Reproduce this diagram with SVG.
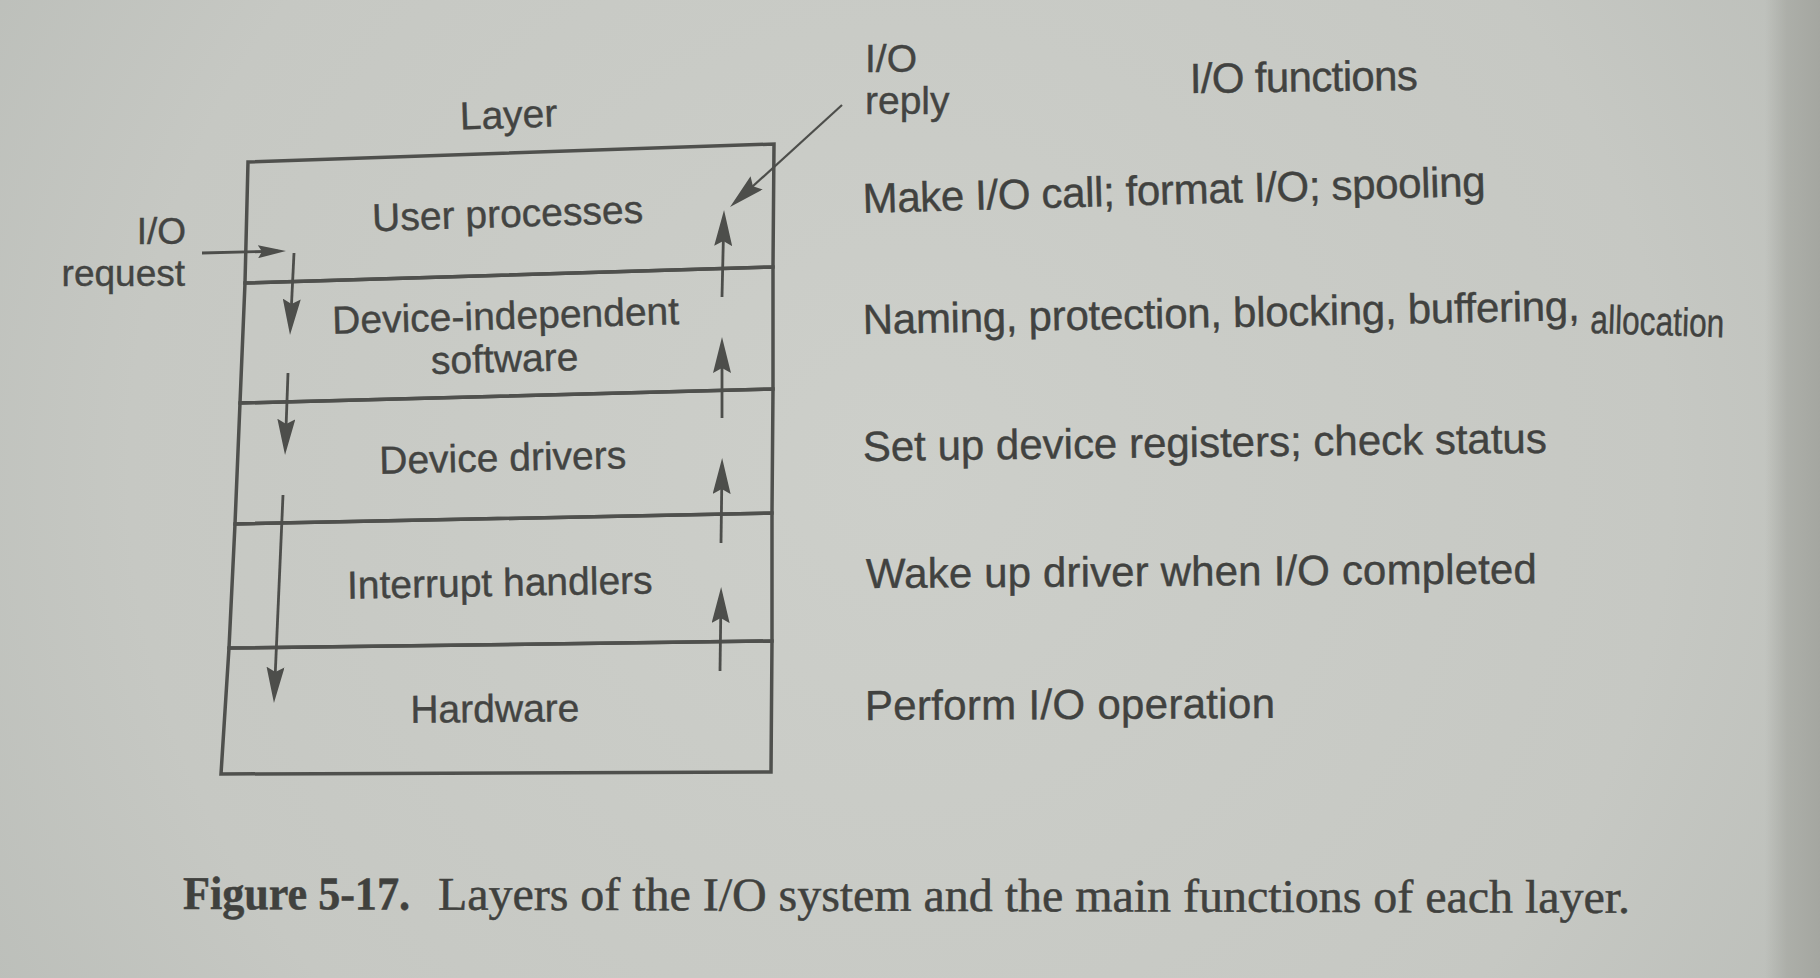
<svg xmlns="http://www.w3.org/2000/svg" width="1820" height="978" viewBox="0 0 1820 978">
  <defs>
    <radialGradient id="paper" cx="900" cy="470" r="1100" gradientUnits="userSpaceOnUse">
      <stop offset="0" stop-color="#cdcfca"/>
      <stop offset="0.7" stop-color="#c6c8c3"/>
      <stop offset="1" stop-color="#babdb8"/>
    </radialGradient>
    <linearGradient id="edge" x1="1765" y1="0" x2="1820" y2="0" gradientUnits="userSpaceOnUse">
      <stop offset="0" stop-color="#a8aaa4" stop-opacity="0"/>
      <stop offset="0.4" stop-color="#a8aaa4" stop-opacity="0.8"/>
      <stop offset="1" stop-color="#a4a6a0" stop-opacity="1"/>
    </linearGradient>
    <!-- slender filled arrowheads; the line stops short of the tip so its end stays hidden -->
    <marker id="head" markerUnits="userSpaceOnUse" markerWidth="36" markerHeight="18" refX="26" refY="9" orient="auto">
      <path d="M0,0 L36,9 L0,18 L5,9 Z" fill="#4d4e4b"/>
    </marker>
    <marker id="headSmall" markerUnits="userSpaceOnUse" markerWidth="28" markerHeight="13" refX="20" refY="6.5" orient="auto">
      <path d="M0,0 L28,6.5 L0,13 L4,6.5 Z" fill="#4d4e4b"/>
    </marker>
    <style>
      .layer { fill: none; stroke: #4f504d; stroke-width: 3.5; stroke-linejoin: miter; }
      .lbl { font-family: "Liberation Sans", Arial, Helvetica, sans-serif; font-size: 39px; fill: #434442; stroke: #434442; stroke-width: 0.4; }
      .fn { font-family: "Liberation Sans", Arial, Helvetica, sans-serif; font-size: 42px; fill: #414240; stroke: #414240; stroke-width: 0.4; }
      .mid { text-anchor: middle; }
      .end { text-anchor: end; }
      .wire { fill: none; stroke: #4d4e4b; stroke-width: 2.8; }
      .thin { stroke-width: 2.2; }
      .cap { font-family: "Liberation Serif", "Times New Roman", serif; font-size: 47px; fill: #40413e; stroke: #40413e; stroke-width: 0.5; }
    </style>
  </defs>

  <!-- page -->
  <rect x="0" y="0" width="1820" height="978" fill="url(#paper)"/>
  <rect x="1765" y="0" width="55" height="978" fill="url(#edge)"/>

  <!-- column headings -->
  <g id="heading-layer">
    <text class="lbl mid" x="509" y="128" transform="rotate(-1.9 509 128)">Layer</text>
  </g>
  <g id="heading-functions">
    <text class="fn" x="1190" y="93" textLength="228" transform="rotate(-0.8 1190 93)">I/O functions</text>
  </g>

  <!-- layer stack -->
  <g id="user-processes">
    <path class="layer" d="M248,162 L774,144 L773,267 L245,283 Z"/>
    <text class="lbl mid" x="508" y="227" transform="rotate(-1.8 508 227)">User processes</text>
  </g>
  <g id="device-independent-software">
    <path class="layer" d="M245,283 L773,267 L773,389 L240,403 Z"/>
    <text class="lbl mid" x="506" y="329" transform="rotate(-1.6 506 329)">Device-independent</text>
    <text class="lbl mid" x="505" y="372" transform="rotate(-1.5 505 372)">software</text>
  </g>
  <g id="device-drivers">
    <path class="layer" d="M240,403 L773,389 L772,513 L235,524 Z"/>
    <text class="lbl mid" x="503" y="471" transform="rotate(-1.3 503 471)">Device drivers</text>
  </g>
  <g id="interrupt-handlers">
    <path class="layer" d="M235,524 L772,513 L772,641 L229,648 Z"/>
    <text class="lbl mid" x="500" y="596" transform="rotate(-1 500 596)">Interrupt handlers</text>
  </g>
  <g id="hardware">
    <path class="layer" d="M229,648 L772,641 L771,772 L221,774 Z"/>
    <text class="lbl mid" x="495" y="722" transform="rotate(-0.5 495 722)">Hardware</text>
  </g>

  <!-- request / reply labels -->
  <g id="io-request">
    <text class="lbl end" x="186" y="244" style="font-size:37px">I/O</text>
    <text class="lbl end" x="185" y="286" style="font-size:37px">request</text>
  </g>
  <g id="io-reply">
    <text class="lbl" x="865" y="72" style="font-size:39px">I/O</text>
    <text class="lbl" x="865" y="114" style="font-size:39px">reply</text>
  </g>

  <!-- functions of each layer -->
  <g id="fn-user">
    <text class="fn" x="863" y="213" textLength="623" transform="rotate(-1.6 863 213)">Make I/O call; format I/O; spooling</text>
  </g>
  <g id="fn-independent">
    <text class="fn" x="863" y="334" textLength="717" transform="rotate(-1.1 863 334)">Naming, protection, blocking, buffering,</text>
    <text class="fn" x="1590" y="333" textLength="134" lengthAdjust="spacingAndGlyphs" style="font-size:40px" transform="rotate(1.8 1590 333)">allocation</text>
  </g>
  <g id="fn-drivers">
    <text class="fn" x="863" y="461" textLength="684" transform="rotate(-0.7 863 461)">Set up device registers; check status</text>
  </g>
  <g id="fn-interrupts">
    <text class="fn" x="866" y="588" textLength="671" transform="rotate(-0.4 866 588)">Wake up driver when I/O completed</text>
  </g>
  <g id="fn-hardware">
    <text class="fn" x="865" y="720" textLength="410" transform="rotate(-0.3 865 720)">Perform I/O operation</text>
  </g>

  <!-- request flows down the left side, reply comes back up the right -->
  <g id="connectors">
    <path class="wire" d="M202,253 L278,251.2" marker-end="url(#headSmall)"/>
    <path class="wire" d="M294,253 L290.5,325" marker-end="url(#head)"/>
    <path class="wire" d="M288,373 L285.4,445" marker-end="url(#head)"/>
    <path class="wire" d="M283,495 L274.4,693" marker-end="url(#head)"/>
    <path class="wire" d="M720,671 L721,597" marker-end="url(#head)"/>
    <path class="wire" d="M721,543 L722,468" marker-end="url(#head)"/>
    <path class="wire" d="M722,418 L722,347" marker-end="url(#head)"/>
    <path class="wire" d="M722,297 L723.8,220" marker-end="url(#head)"/>
    <path class="wire thin" d="M842,105 L737.4,200.3" marker-end="url(#head)"/>
  </g>

  <!-- caption -->
  <g id="caption">
    <text class="cap" transform="rotate(0.15 183 909)"><tspan x="183" y="909" font-weight="bold" textLength="227" lengthAdjust="spacingAndGlyphs">Figure 5-17.</tspan><tspan x="438" y="909" textLength="1192" lengthAdjust="spacingAndGlyphs">Layers of the I/O system and the main functions of each layer.</tspan></text>
  </g>
</svg>
